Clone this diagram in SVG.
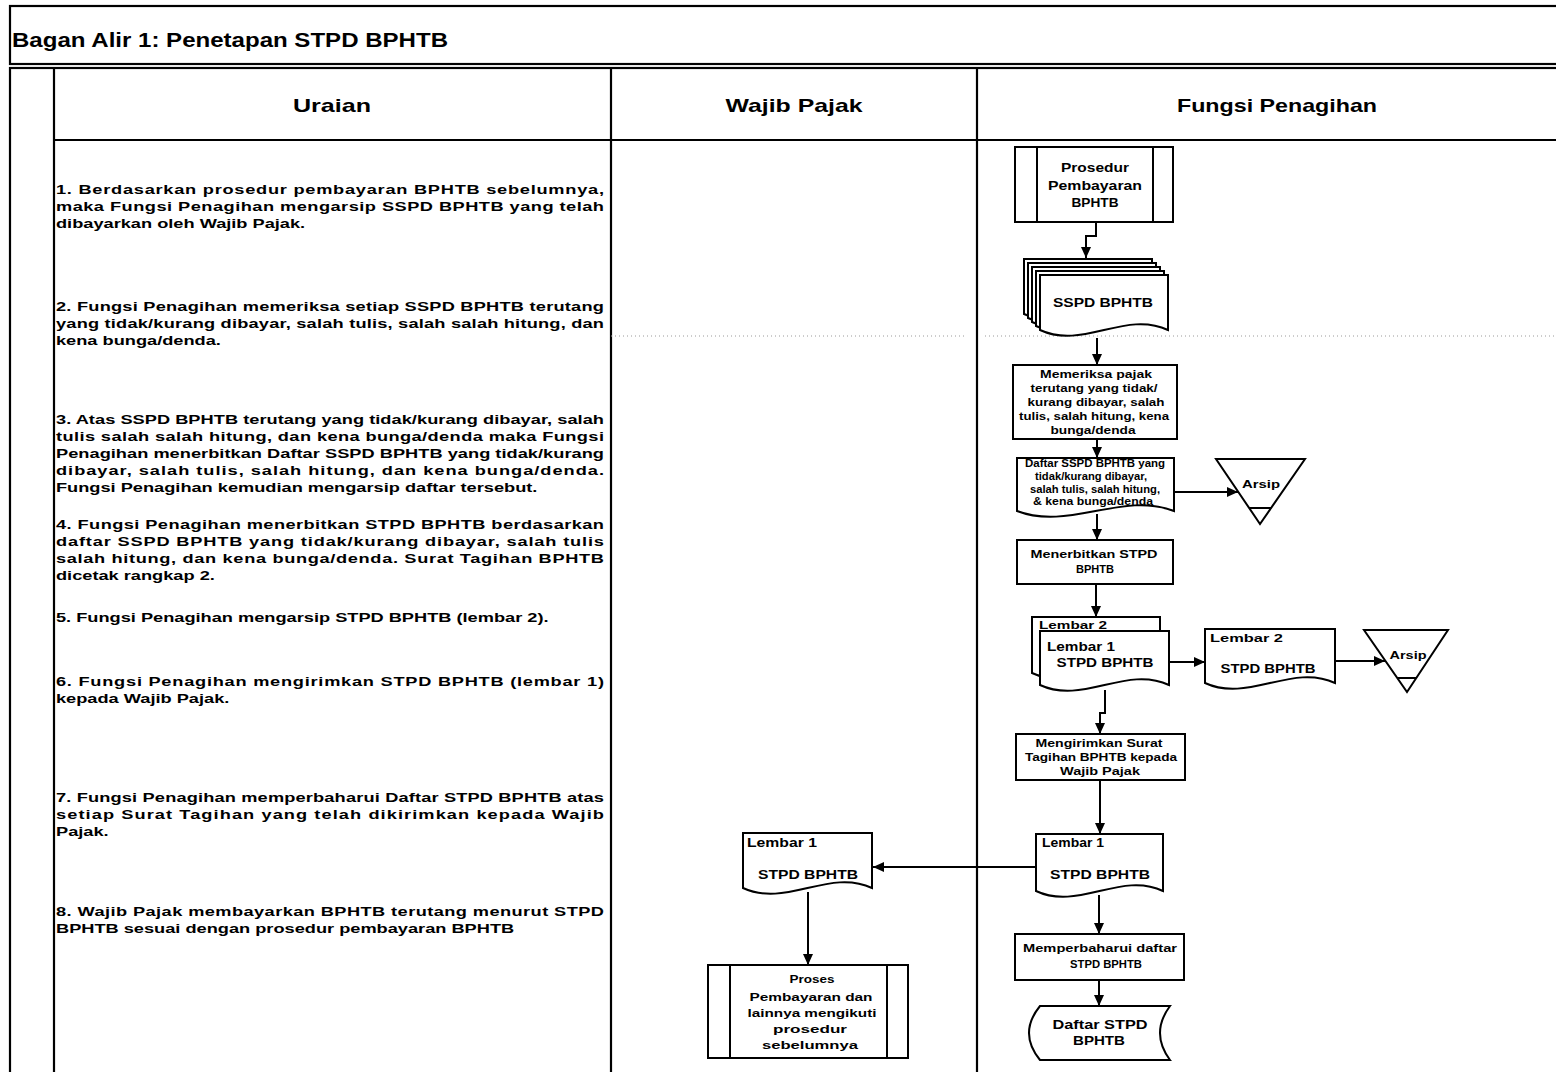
<svg xmlns="http://www.w3.org/2000/svg" width="1556" height="1072" viewBox="0 0 1556 1072">
  <style>
    .t { font-family: "Liberation Sans", Arial, Helvetica, sans-serif; font-weight: bold; fill: #000; }
    .hd { font-size: 19px; }
    .p { font-size: 13.5px; }
    .n11 { font-size: 11px; }
    .n10 { font-size: 10px; }
    .n12 { font-size: 12px; }
    .frame { fill: none; stroke: #000; stroke-width: 2.2; }
    .shape { fill: #fff; stroke: #000; stroke-width: 2; }
    .inner { fill: none; stroke: #000; stroke-width: 2; }
    .conn { fill: none; stroke: #000; stroke-width: 2; marker-end: url(#arrow); }
  </style>
  <defs>
    <marker id="arrow" markerUnits="userSpaceOnUse" markerWidth="12" markerHeight="10" refX="11" refY="5" orient="auto">
      <path d="M0,0 L11,5 L0,10 Z" fill="#000"/>
    </marker>
    <path id="ssp-page" d="M1040,275 H1168 V330 C1125,310 1083,350 1040,330 Z"/>
  </defs>

  <rect width="1556" height="1072" fill="#fff"/>

  <!-- title bar -->
  <g id="title">
    <rect x="10" y="6" width="1560" height="58" class="frame"/>
    <text class="t" x="12" y="47" font-size="20" textLength="436" lengthAdjust="spacingAndGlyphs">Bagan Alir 1: Penetapan STPD BPHTB</text>
  </g>

  <!-- table grid -->
  <g id="table">
    <rect x="10" y="68" width="1560" height="1020" class="frame"/>
    <line x1="54" y1="68" x2="54" y2="1072" class="frame"/>
    <line x1="611" y1="68" x2="611" y2="1072" class="frame"/>
    <line x1="977" y1="68" x2="977" y2="1072" class="frame"/>
    <line x1="54" y1="140" x2="1556" y2="140" class="frame"/>
    <line x1="611" y1="336" x2="965" y2="336" stroke="#9a9a9a" stroke-width="1" stroke-dasharray="1 3"/>
    <line x1="985" y1="336" x2="1556" y2="336" stroke="#9a9a9a" stroke-width="1" stroke-dasharray="1 3"/>
    <text class="t hd" x="332" y="112" text-anchor="middle" textLength="78" lengthAdjust="spacingAndGlyphs">Uraian</text>
    <text class="t hd" x="794" y="112" text-anchor="middle" textLength="137" lengthAdjust="spacingAndGlyphs">Wajib Pajak</text>
    <text class="t hd" x="1277" y="112" text-anchor="middle" textLength="200" lengthAdjust="spacingAndGlyphs">Fungsi Penagihan</text>
  </g>

  <!-- step descriptions (wide bold face, justified lines) -->
  <g id="uraian" transform="translate(56 0) scale(1.35 1)">
    <text class="t p" x="0" y="194" textLength="405.9" lengthAdjust="spacing">1. Berdasarkan prosedur pembayaran BPHTB sebelumnya,</text>
    <text class="t p" x="0" y="211" textLength="405.9" lengthAdjust="spacing">maka Fungsi Penagihan mengarsip SSPD BPHTB yang telah</text>
    <text class="t p" x="0" y="228">dibayarkan oleh Wajib Pajak.</text>

    <text class="t p" x="0" y="311" textLength="405.9" lengthAdjust="spacing">2. Fungsi Penagihan memeriksa setiap SSPD BPHTB terutang</text>
    <text class="t p" x="0" y="328" textLength="405.9" lengthAdjust="spacing">yang tidak/kurang dibayar, salah tulis, salah salah hitung, dan</text>
    <text class="t p" x="0" y="345">kena bunga/denda.</text>

    <text class="t p" x="0" y="424" textLength="405.9" lengthAdjust="spacing">3. Atas SSPD BPHTB terutang yang tidak/kurang dibayar, salah</text>
    <text class="t p" x="0" y="441" textLength="405.9" lengthAdjust="spacing">tulis salah salah hitung, dan kena bunga/denda maka Fungsi</text>
    <text class="t p" x="0" y="458" textLength="405.9" lengthAdjust="spacing">Penagihan menerbitkan Daftar SSPD BPHTB yang tidak/kurang</text>
    <text class="t p" x="0" y="475" textLength="405.9" lengthAdjust="spacing">dibayar, salah tulis, salah hitung, dan kena bunga/denda.</text>
    <text class="t p" x="0" y="492">Fungsi Penagihan kemudian mengarsip daftar tersebut.</text>

    <text class="t p" x="0" y="529" textLength="405.9" lengthAdjust="spacing">4. Fungsi Penagihan menerbitkan STPD BPHTB berdasarkan</text>
    <text class="t p" x="0" y="546" textLength="405.9" lengthAdjust="spacing">daftar SSPD BPHTB yang tidak/kurang dibayar, salah tulis</text>
    <text class="t p" x="0" y="563" textLength="405.9" lengthAdjust="spacing">salah hitung, dan kena bunga/denda. Surat Tagihan BPHTB</text>
    <text class="t p" x="0" y="580">dicetak rangkap 2.</text>

    <text class="t p" x="0" y="622">5. Fungsi Penagihan mengarsip STPD BPHTB (lembar 2).</text>

    <text class="t p" x="0" y="686" textLength="405.9" lengthAdjust="spacing">6. Fungsi Penagihan mengirimkan STPD BPHTB (lembar 1)</text>
    <text class="t p" x="0" y="703">kepada Wajib Pajak.</text>

    <text class="t p" x="0" y="802" textLength="405.9" lengthAdjust="spacing">7. Fungsi Penagihan memperbaharui Daftar STPD BPHTB atas</text>
    <text class="t p" x="0" y="819" textLength="405.9" lengthAdjust="spacing">setiap Surat Tagihan yang telah dikirimkan kepada Wajib</text>
    <text class="t p" x="0" y="836">Pajak.</text>

    <text class="t p" x="0" y="916" textLength="405.9" lengthAdjust="spacing">8. Wajib Pajak membayarkan BPHTB terutang menurut STPD</text>
    <text class="t p" x="0" y="933">BPHTB sesuai dengan prosedur pembayaran BPHTB</text>
  </g>

  <!-- connectors -->
  <g id="connectors">
    <polyline class="conn" points="1096,222 1096,236 1086,236 1086,258"/>
    <line class="conn" x1="1097" y1="338" x2="1097" y2="365"/>
    <line class="conn" x1="1097" y1="439" x2="1097" y2="458"/>
    <line class="conn" x1="1174" y1="492" x2="1238" y2="492"/>
    <line class="conn" x1="1097" y1="514" x2="1097" y2="540"/>
    <line class="conn" x1="1096" y1="584" x2="1096" y2="617"/>
    <line class="conn" x1="1169" y1="662" x2="1205" y2="662"/>
    <line class="conn" x1="1335" y1="661" x2="1385" y2="661"/>
    <polyline class="conn" points="1105,690 1105,713 1100,713 1100,734"/>
    <line class="conn" x1="1100" y1="780" x2="1100" y2="834"/>
    <line class="conn" x1="1036" y1="867" x2="873" y2="867"/>
    <line class="conn" x1="1099" y1="895" x2="1099" y2="934"/>
    <line class="conn" x1="1099" y1="980" x2="1099" y2="1006"/>
    <line class="conn" x1="808" y1="892" x2="808" y2="965"/>
  </g>

  <!-- Fungsi Penagihan lane -->
  <g id="prosedur-pembayaran">
    <rect x="1015" y="147" width="158" height="75" class="shape"/>
    <line x1="1037" y1="147" x2="1037" y2="222" class="inner"/>
    <line x1="1153" y1="147" x2="1153" y2="222" class="inner"/>
    <text class="t n12" x="1095" y="172" text-anchor="middle" textLength="68" lengthAdjust="spacingAndGlyphs">Prosedur</text>
    <text class="t n12" x="1095" y="190" text-anchor="middle" textLength="94" lengthAdjust="spacingAndGlyphs">Pembayaran</text>
    <text class="t n12" x="1095" y="207" text-anchor="middle" textLength="47" lengthAdjust="spacingAndGlyphs">BPHTB</text>
  </g>

  <g id="sspd-bphtb">
    <use href="#ssp-page" class="shape" transform="translate(-16 -16)"/>
    <use href="#ssp-page" class="shape" transform="translate(-12 -12)"/>
    <use href="#ssp-page" class="shape" transform="translate(-8 -8)"/>
    <use href="#ssp-page" class="shape" transform="translate(-4 -4)"/>
    <use href="#ssp-page" class="shape"/>
    <text class="t n12" x="1103" y="307" text-anchor="middle" textLength="100" lengthAdjust="spacingAndGlyphs">SSPD BPHTB</text>
  </g>

  <g id="memeriksa">
    <rect x="1013" y="365" width="164" height="74" class="shape"/>
    <text class="t n11" x="1096" y="378" text-anchor="middle" textLength="112" lengthAdjust="spacingAndGlyphs">Memeriksa pajak</text>
    <text class="t n11" x="1094" y="392" text-anchor="middle" textLength="127" lengthAdjust="spacingAndGlyphs">terutang yang tidak/</text>
    <text class="t n11" x="1096" y="406" text-anchor="middle" textLength="137" lengthAdjust="spacingAndGlyphs">kurang dibayar, salah</text>
    <text class="t n11" x="1094" y="420" text-anchor="middle" textLength="150" lengthAdjust="spacingAndGlyphs">tulis, salah hitung, kena</text>
    <text class="t n11" x="1093" y="434" text-anchor="middle" textLength="85" lengthAdjust="spacingAndGlyphs">bunga/denda</text>
  </g>

  <g id="daftar-sspd">
    <path d="M1017,458 H1174 V511 C1122,491 1069,531 1017,511 Z" class="shape"/>
    <text class="t n10" x="1095" y="467" text-anchor="middle" textLength="140" lengthAdjust="spacingAndGlyphs">Daftar SSPD BPHTB yang</text>
    <text class="t n10" x="1091" y="480" text-anchor="middle" textLength="112" lengthAdjust="spacingAndGlyphs">tidak/kurang dibayar,</text>
    <text class="t n10" x="1095" y="493" text-anchor="middle" textLength="130" lengthAdjust="spacingAndGlyphs">salah tulis, salah hitung,</text>
    <text class="t n10" x="1093" y="505" text-anchor="middle" textLength="120" lengthAdjust="spacingAndGlyphs">&amp; kena bunga/denda</text>
  </g>

  <g id="arsip-1">
    <path d="M1216,459 H1305 L1260,524 Z" class="shape"/>
    <line x1="1249" y1="508" x2="1271" y2="508" class="inner"/>
    <text class="t n11" x="1261" y="488" text-anchor="middle" textLength="38" lengthAdjust="spacingAndGlyphs">Arsip</text>
  </g>

  <g id="menerbitkan-stpd">
    <rect x="1017" y="540" width="156" height="44" class="shape"/>
    <text class="t n11" x="1094" y="558" text-anchor="middle" textLength="127" lengthAdjust="spacingAndGlyphs">Menerbitkan STPD</text>
    <text class="t n11" x="1095" y="573" text-anchor="middle" textLength="38" lengthAdjust="spacingAndGlyphs">BPHTB</text>
  </g>

  <g id="stpd-rangkap">
    <path d="M1032,617 H1160 V673 C1117,653 1075,693 1032,673 Z" class="shape"/>
    <text class="t n11" x="1039" y="629" textLength="68" lengthAdjust="spacingAndGlyphs">Lembar 2</text>
    <path d="M1040,631 H1169 V685 C1126,665 1083,705 1040,685 Z" class="shape"/>
    <text class="t n12" x="1047" y="651" textLength="68" lengthAdjust="spacingAndGlyphs">Lembar 1</text>
    <text class="t n12" x="1105" y="667" text-anchor="middle" textLength="97" lengthAdjust="spacingAndGlyphs">STPD BPHTB</text>
  </g>

  <g id="stpd-lembar-2">
    <path d="M1205,629 H1335 V683 C1292,663 1248,703 1205,683 Z" class="shape"/>
    <text class="t n11" x="1210" y="642" textLength="73" lengthAdjust="spacingAndGlyphs">Lembar 2</text>
    <text class="t n12" x="1268" y="673" text-anchor="middle" textLength="95" lengthAdjust="spacingAndGlyphs">STPD  BPHTB</text>
  </g>

  <g id="arsip-2">
    <path d="M1364,630 H1448 L1407,692 Z" class="shape"/>
    <line x1="1397" y1="678" x2="1416" y2="678" class="inner"/>
    <text class="t n11" x="1408" y="659" text-anchor="middle" textLength="37" lengthAdjust="spacingAndGlyphs">Arsip</text>
  </g>

  <g id="mengirimkan">
    <rect x="1016" y="734" width="169" height="46" class="shape"/>
    <text class="t n11" x="1099" y="747" text-anchor="middle" textLength="127" lengthAdjust="spacingAndGlyphs">Mengirimkan Surat</text>
    <text class="t n11" x="1101" y="761" text-anchor="middle" textLength="152" lengthAdjust="spacingAndGlyphs">Tagihan BPHTB kepada</text>
    <text class="t n11" x="1100" y="775" text-anchor="middle" textLength="80" lengthAdjust="spacingAndGlyphs">Wajib Pajak</text>
  </g>

  <g id="stpd-lembar-1">
    <path d="M1036,834 H1163 V891 C1121,871 1078,911 1036,891 Z" class="shape"/>
    <text class="t n12" x="1042" y="847" textLength="62" lengthAdjust="spacingAndGlyphs">Lembar 1</text>
    <text class="t n12" x="1100" y="879" text-anchor="middle" textLength="100" lengthAdjust="spacingAndGlyphs">STPD BPHTB</text>
  </g>

  <g id="memperbaharui">
    <rect x="1015" y="934" width="169" height="46" class="shape"/>
    <text class="t n11" x="1100" y="952" text-anchor="middle" textLength="154" lengthAdjust="spacingAndGlyphs">Memperbaharui daftar</text>
    <text class="t n11" x="1106" y="968" text-anchor="middle" textLength="72" lengthAdjust="spacingAndGlyphs">STPD BPHTB</text>
  </g>

  <g id="daftar-stpd">
    <path d="M1040,1006 H1170 Q1150,1033 1170,1060 H1040 Q1018,1033 1040,1006 Z" class="shape"/>
    <text class="t n12" x="1100" y="1029" text-anchor="middle" textLength="95" lengthAdjust="spacingAndGlyphs">Daftar STPD</text>
    <text class="t n12" x="1099" y="1045" text-anchor="middle" textLength="52" lengthAdjust="spacingAndGlyphs">BPHTB</text>
  </g>

  <!-- Wajib Pajak lane -->
  <g id="wp-stpd-lembar-1">
    <path d="M743,833 H872 V888 C829,868 786,908 743,888 Z" class="shape"/>
    <text class="t n12" x="747" y="847" textLength="70" lengthAdjust="spacingAndGlyphs">Lembar 1</text>
    <text class="t n12" x="808" y="879" text-anchor="middle" textLength="100" lengthAdjust="spacingAndGlyphs">STPD BPHTB</text>
  </g>

  <g id="proses-pembayaran">
    <rect x="708" y="965" width="200" height="93" class="shape"/>
    <line x1="730" y1="965" x2="730" y2="1058" class="inner"/>
    <line x1="887" y1="965" x2="887" y2="1058" class="inner"/>
    <text class="t n11" x="812" y="983" text-anchor="middle" textLength="45" lengthAdjust="spacingAndGlyphs">Proses</text>
    <text class="t n11" x="811" y="1001" text-anchor="middle" textLength="123" lengthAdjust="spacingAndGlyphs">Pembayaran dan</text>
    <text class="t n11" x="812" y="1017" text-anchor="middle" textLength="129" lengthAdjust="spacingAndGlyphs">lainnya mengikuti</text>
    <text class="t n11" x="810" y="1033" text-anchor="middle" textLength="74" lengthAdjust="spacingAndGlyphs">prosedur</text>
    <text class="t n11" x="810" y="1049" text-anchor="middle" textLength="96" lengthAdjust="spacingAndGlyphs">sebelumnya</text>
  </g>
</svg>
